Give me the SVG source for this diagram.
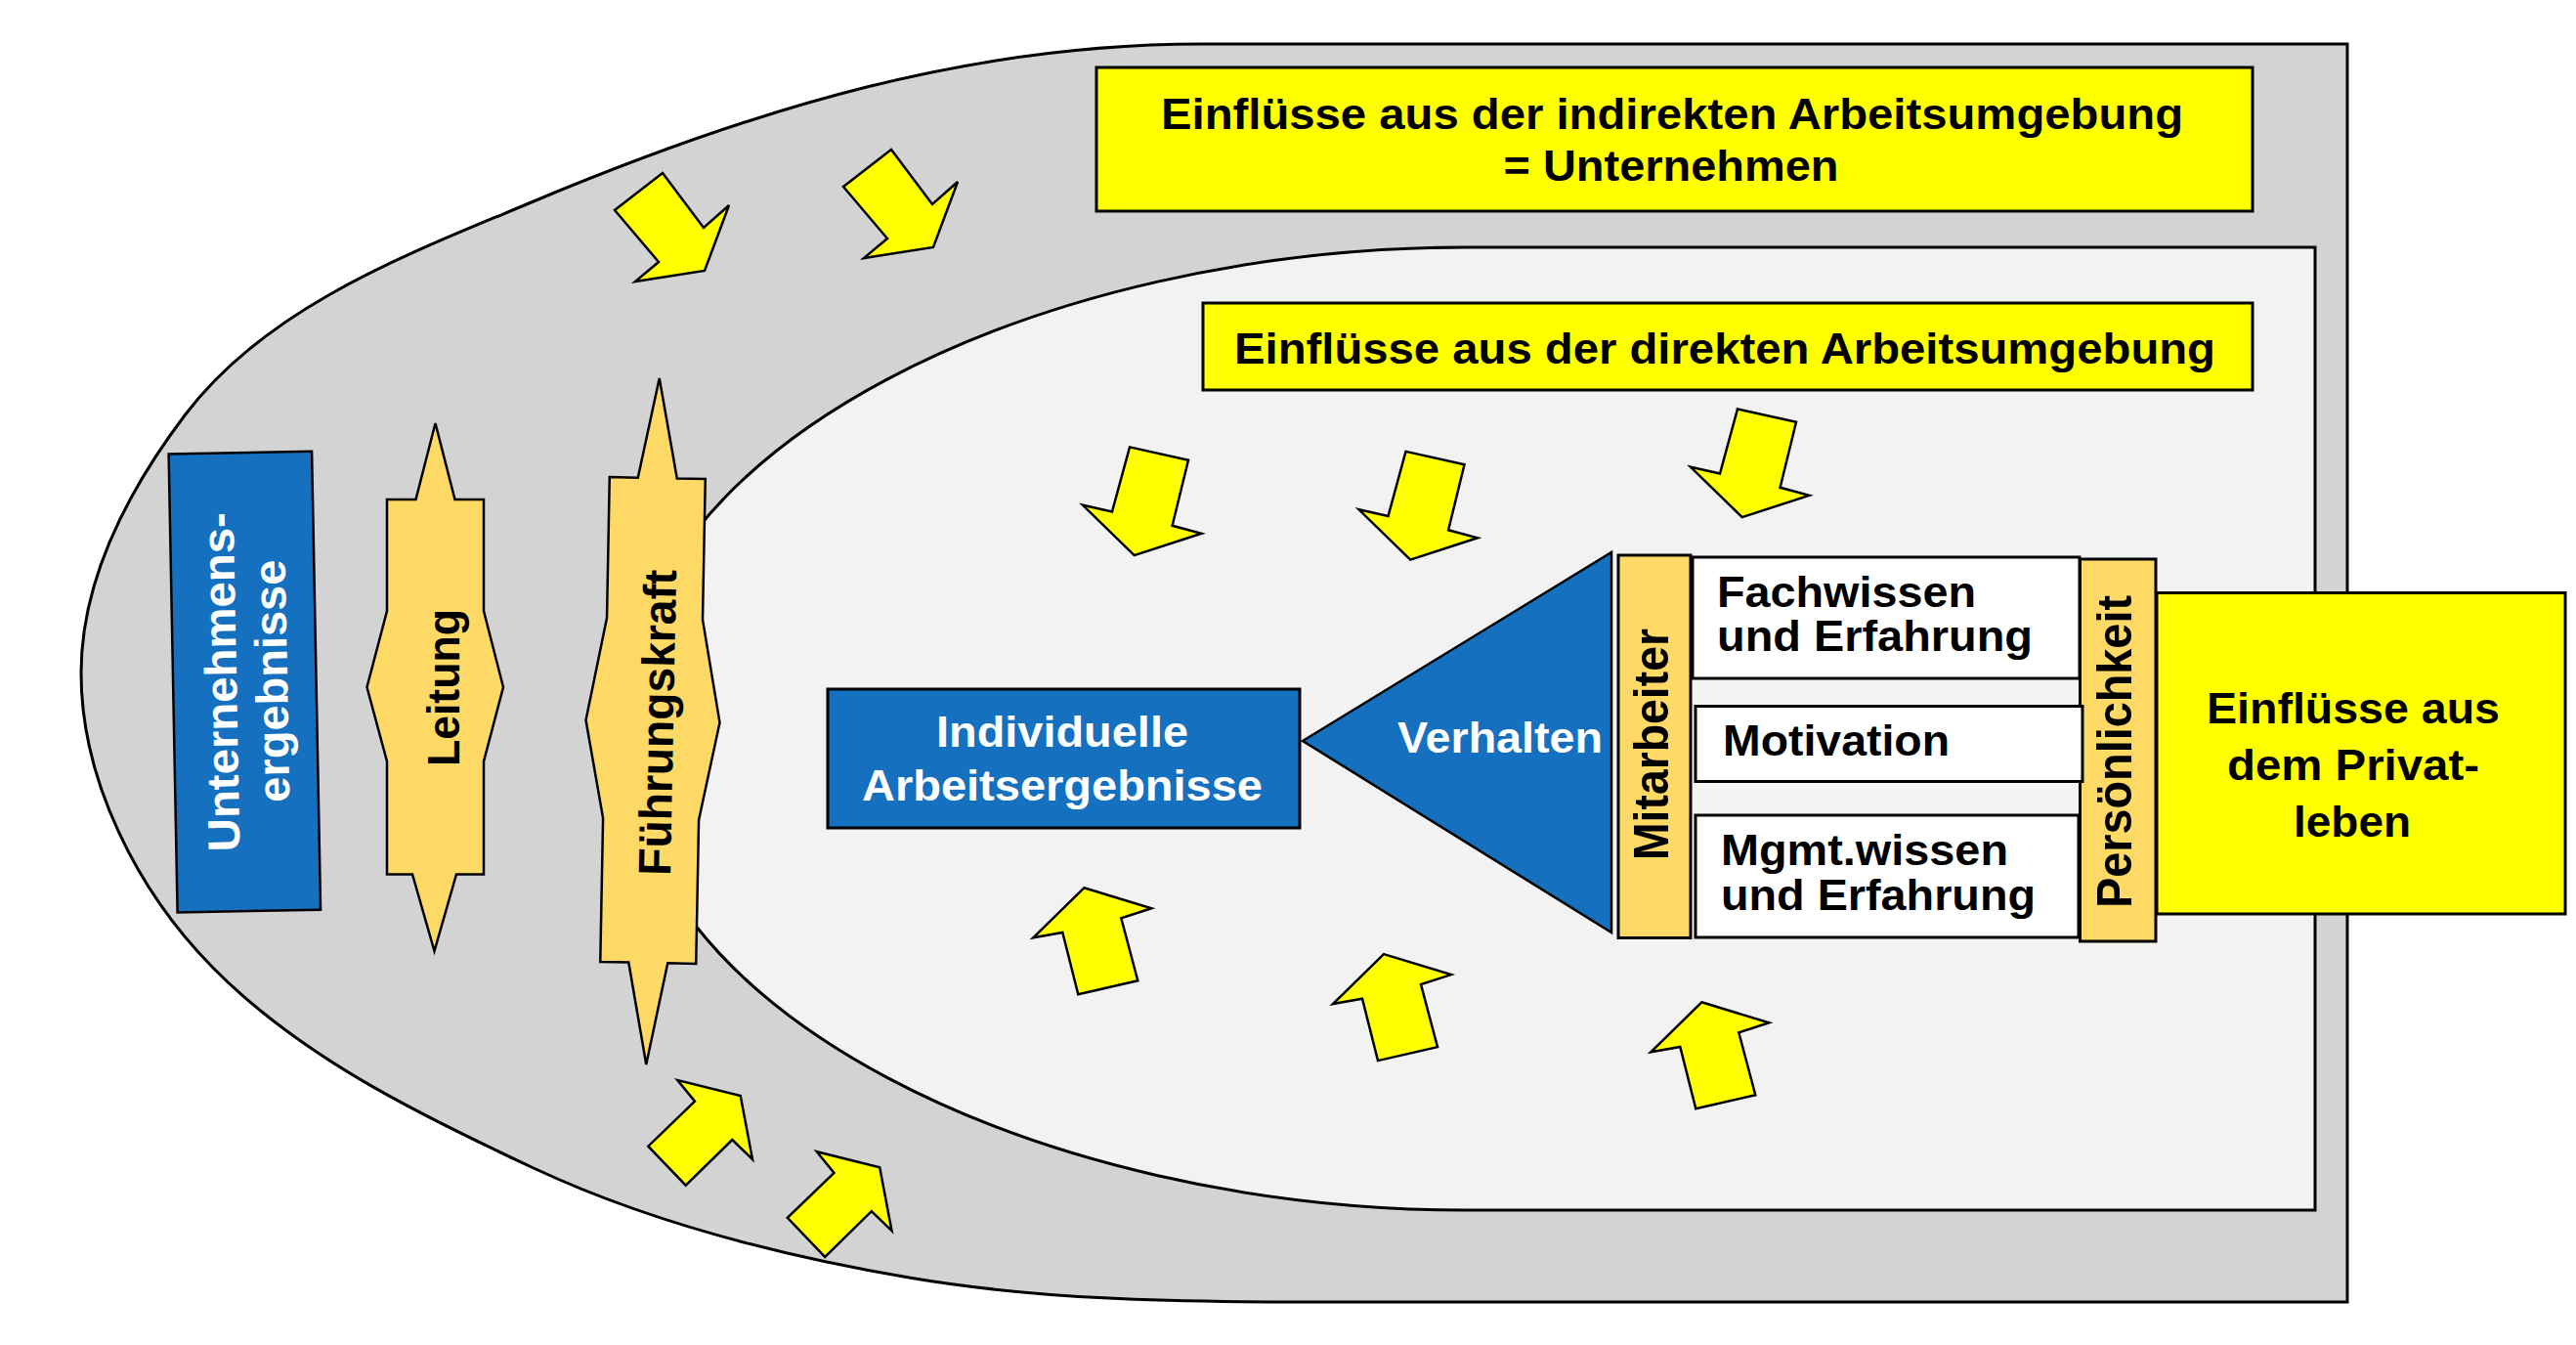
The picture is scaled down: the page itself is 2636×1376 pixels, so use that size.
<svg xmlns="http://www.w3.org/2000/svg" width="2636" height="1376" viewBox="0 0 2636 1376">
<defs>
<style>
.t{font-family:"Liberation Sans",Arial,Helvetica,sans-serif;font-weight:bold;}
.h{font-size:44px;fill:#000}
.hw{font-size:44px;fill:#fff}
.v{font-size:50px;fill:#000}
.box{stroke:#000;stroke-width:3}
.sh{stroke:#000;stroke-width:2.5}
.arr{fill:#ffff00;stroke:#000;stroke-width:2.5;stroke-linejoin:miter}
</style>
<polygon id="arrOuterDown" class="arr" points="678,177 720,233 746,210 721,277 650,288 674,268 629,215"/>
<polygon id="arrInnerDown" class="arr" points="1156,457.4 1216,470.8 1199.6,537.8 1229.5,545.8 1160.7,568.1 1108,516.8 1138,523.5"/>
<polygon id="arrInnerUp" class="arr" points="1109.3,908.3 1178.3,929.3 1147.3,939.3 1164.3,1003.3 1103.3,1017.3 1087.3,954 1057.3,959.3"/>
<polygon id="arrOuterUp" class="arr" points="757.7,1121 770,1186 749.3,1166 701.7,1212.7 663.3,1172.7 711,1126.7 693.3,1105"/>
</defs>
<rect width="2636" height="1376" fill="#ffffff"/>

<g id="outer-zone">
<path d="M2402,45 L1230,45 C996,45 780,108 546,206 C417,260 273.3,313.3 189,425 C131.8,500.8 83,593.5 83,688.5 C83,798.5 140.6,911.8 217.9,990 C308.6,1081.7 429.1,1140.3 546,1195 C666.5,1251.4 798.9,1284.7 930,1307 C1061.1,1329.3 1197,1332 1330,1332 L2402,1332 Z" fill="#d3d3d3" stroke="#000" stroke-width="3"/>
</g>
<g id="inner-zone">
<path d="M2369,253 L1500,253 C1070,253 637,450 637,745 C637,1040 1070,1238 1500,1238 L2369,1238 Z" fill="#f2f2f2" stroke="#000" stroke-width="3"/>
</g>

<g id="indirect-env">
<rect x="1122" y="69" width="1183" height="147" fill="#ffff00" class="box"/>
<text class="t h" x="1711" y="131.5" text-anchor="middle" textLength="1046" lengthAdjust="spacingAndGlyphs">Einflüsse aus der indirekten Arbeitsumgebung</text>
<text class="t h" x="1710" y="185" text-anchor="middle" textLength="343" lengthAdjust="spacingAndGlyphs">= Unternehmen</text>
</g>

<g id="direct-env">
<rect x="1231" y="310" width="1074" height="89" fill="#ffff00" class="box"/>
<text class="t h" x="1765" y="372" text-anchor="middle" textLength="1004" lengthAdjust="spacingAndGlyphs">Einflüsse aus der direkten Arbeitsumgebung</text>
</g>

<g id="unternehmensergebnisse" transform="rotate(-1.1 250.35 697.6)">
<rect x="177.1" y="463.1" width="146.5" height="469" fill="#1570c0" class="sh"/>
<text class="t" font-size="46" fill="#fff" transform="translate(242,697.3) rotate(-90)" text-anchor="middle" textLength="347" lengthAdjust="spacingAndGlyphs">Unternehmens-</text>
<text class="t" font-size="46" fill="#fff" transform="translate(294,697.3) rotate(-90)" text-anchor="middle" textLength="248" lengthAdjust="spacingAndGlyphs">ergebnisse</text>
</g>

<g id="leitung">
<polygon points="445.5,433 465.5,511 495,511 495,625 515,703 495,779 495,894.5 467,894.5 444.5,973 422,894.5 396,894.5 396,779 375.5,703 396,625 396,511 425.5,511" fill="#ffd966" class="sh"/>
<text class="t" font-size="47" fill="#000" transform="translate(469.6,703.6) rotate(-90)" text-anchor="middle" textLength="161" lengthAdjust="spacingAndGlyphs">Leitung</text>
</g>

<g id="fuehrungskraft">
<polygon transform="translate(668,738) rotate(1.1)" points="0,-351 20,-249 49,-249 49,-105 68.5,0 49,100 49,247 20,247 0,351 -20,247 -49,247 -49,100 -68.5,0 -49,-105 -49,-249 -20,-249" fill="#ffd966" class="sh"/>
<text class="t" font-size="47" fill="#000" transform="translate(689,739.5) rotate(-88.9)" text-anchor="middle" textLength="313" lengthAdjust="spacingAndGlyphs">Führungskraft</text>
</g>

<g id="connectors">
<use href="#arrOuterDown"/>
<use href="#arrOuterDown" transform="translate(234,-24)"/>
<use href="#arrInnerDown"/>
<use href="#arrInnerDown" transform="translate(282.5,4.5)"/>
<use href="#arrInnerDown" transform="translate(622,-39)"/>
<use href="#arrInnerUp"/>
<use href="#arrInnerUp" transform="translate(306.7,67.8)"/>
<use href="#arrInnerUp" transform="translate(632,117)"/>
<use href="#arrOuterUp"/>
<use href="#arrOuterUp" transform="translate(142.5,73.2)"/>
</g>

<g id="individuelle-arbeitsergebnisse">
<rect x="847" y="705" width="483" height="142" fill="#1570c0" class="box"/>
<text class="t hw" x="1087" y="764" text-anchor="middle" textLength="258" lengthAdjust="spacingAndGlyphs">Individuelle</text>
<text class="t hw" x="1087" y="819" text-anchor="middle" textLength="410" lengthAdjust="spacingAndGlyphs">Arbeitsergebnisse</text>
</g>

<g id="verhalten">
<polygon points="1333,758 1649,565 1649,954" fill="#1570c0" class="sh"/>
<text class="t hw" x="1535" y="770" text-anchor="middle" textLength="210" lengthAdjust="spacingAndGlyphs">Verhalten</text>
</g>

<g id="mitarbeiter">
<rect x="1656" y="568" width="74" height="391.5" fill="#ffd966" class="box"/>
<text class="t v" transform="translate(1707,761.5) rotate(-90)" text-anchor="middle" textLength="237" lengthAdjust="spacingAndGlyphs">Mitarbeiter</text>
</g>

<g id="fachwissen">
<rect x="1732" y="570" width="396" height="124" fill="#ffffff" class="box"/>
<text class="t h" x="1757" y="621" textLength="265" lengthAdjust="spacingAndGlyphs">Fachwissen</text>
<text class="t h" x="1757" y="666" textLength="323" lengthAdjust="spacingAndGlyphs">und Erfahrung</text>
</g>

<g id="mgmtwissen">
<rect x="1735" y="834" width="392" height="125" fill="#ffffff" class="box"/>
<text class="t h" x="1761" y="884.5" textLength="294" lengthAdjust="spacingAndGlyphs">Mgmt.wissen</text>
<text class="t h" x="1761" y="931" textLength="322" lengthAdjust="spacingAndGlyphs">und Erfahrung</text>
</g>

<g id="persoenlichkeit">
<rect x="2128.5" y="572" width="77.5" height="391" fill="#ffd966" class="box"/>
<text class="t v" transform="translate(2181,769) rotate(-90)" text-anchor="middle" textLength="320" lengthAdjust="spacingAndGlyphs">Persönlichkeit</text>
</g>

<g id="motivation">
<rect x="1735" y="722.5" width="396" height="77" fill="#ffffff" class="box"/>
<text class="t h" x="1763" y="773" textLength="232" lengthAdjust="spacingAndGlyphs">Motivation</text>
</g>

<g id="privatleben">
<rect x="2207" y="606.5" width="418" height="328.5" fill="#ffff00" class="box"/>
<text class="t h" x="2408" y="740" text-anchor="middle" textLength="300" lengthAdjust="spacingAndGlyphs">Einflüsse aus</text>
<text class="t h" x="2408" y="798" text-anchor="middle" textLength="258" lengthAdjust="spacingAndGlyphs">dem Privat-</text>
<text class="t h" x="2407" y="856" text-anchor="middle" textLength="120" lengthAdjust="spacingAndGlyphs">leben</text>
</g>
</svg>
